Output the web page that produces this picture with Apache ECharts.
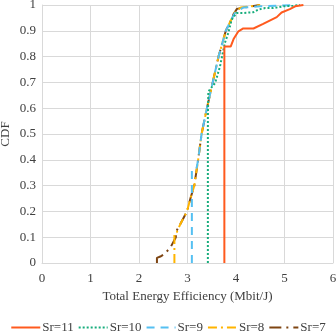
<!DOCTYPE html>
<html>
<head>
<meta charset="utf-8">
<script src="https://cdn.jsdelivr.net/npm/echarts@6/dist/echarts.min.js"></script>
<style>
  html, body { margin: 0; padding: 0; background: #fff; }
  #chart { width: 336px; height: 332px; }
</style>
</head>
<body>
<div id="chart"></div>
<script>
// values: [efficiency, cdf]
var xTicks = [0, 1, 2, 3, 4, 5, 6];
var seriesNames = ['Sr=11', 'Sr=10', 'Sr=9', 'Sr=8', 'Sr=7'];

var sr11 = [[3.76, 0], [3.76, 0.839], [3.89, 0.839], [3.95, 0.868], [4.05, 0.898], [4.15, 0.909],
  [4.36, 0.909], [4.56, 0.927], [4.84, 0.953], [4.94, 0.971], [5.11, 0.984], [5.22, 0.995], [5.39, 1]];

var sr10 = [[3.42, 0], [3.42, 0.562], [3.40, 0.562], [3.43, 0.665], [3.57, 0.698], [3.67, 0.762],
  [3.77, 0.853], [3.84, 0.891], [3.91, 0.943], [4.01, 0.969], [4.15, 0.969], [4.36, 0.972],
  [4.46, 0.982], [4.6, 0.988], [4.77, 0.988], [4.98, 0.995], [5.18, 0.997], [5.32, 1]];

var sr9 = [[3.09, 0], [3.09, 0.36], [3.15, 0.36], [3.19, 0.37], [3.22, 0.4], [3.29, 0.5],
  [3.40, 0.6], [3.52, 0.7], [3.64, 0.8], [3.70, 0.84], [3.79, 0.9], [3.92, 0.95], [3.98, 0.97],
  [4.15, 0.99], [4.5, 0.995], [5.2, 1]];

var sr8 = [[2.73, 0], [2.73, 0.116], [2.78, 0.12], [2.85, 0.15], [2.99, 0.2], [3.06, 0.25],
  [3.14, 0.3], [3.22, 0.4], [3.29, 0.5], [3.40, 0.6], [3.52, 0.7], [3.64, 0.8], [3.70, 0.84],
  [3.79, 0.9], [3.92, 0.95], [3.97, 0.97], [4.1, 0.99], [4.5, 1]];

var sr7 = [[2.37, 0], [2.37, 0.02], [2.44, 0.025], [2.5, 0.032], [2.54, 0.032], [2.64, 0.057],
  [2.76, 0.1], [2.76, 0.12], [2.85, 0.15], [2.99, 0.2], [3.06, 0.25], [3.14, 0.3], [3.22, 0.4],
  [3.29, 0.5], [3.40, 0.6], [3.52, 0.7], [3.64, 0.8], [3.70, 0.84], [3.79, 0.9], [3.92, 0.95],
  [3.95, 0.965], [4.02, 0.985], [4.15, 0.99], [4.49, 1]];

var colors = ['#FF5A1E', '#17AD7C', '#55C0F2', '#FFB400', '#7E4512'];
var dashes = ['solid', [2, 2], [8, 6], [9, 4, 2, 4], [12, 5, 2, 5]];
var allData = [sr11, sr10, sr9, sr8, sr7];

var chart = echarts.init(document.getElementById('chart'));
var font = '"Liberation Serif", "Times New Roman", serif';

var series = [];
for (var i = 0; i < seriesNames.length; i++) {
  series.push({
    name: seriesNames[i],
    type: 'line',
    data: allData[i],
    symbol: 'none',
    z: 10 - i,
    lineStyle: { color: colors[i], width: 2, type: dashes[i] },
    itemStyle: { color: colors[i] }
  });
}
series.reverse();

chart.setOption({
  animation: false,
  textStyle: { fontFamily: font },
  grid: { left: 42, right: 3, top: 5, bottom: 69, outerBoundsMode: 'none', containLabel: false },
  xAxis: {
    type: 'value', min: 0, max: 6, interval: 1,
    name: 'Total Energy Efficiency (Mbit/J)', nameLocation: 'middle', nameGap: 27,
    nameMoveOverlap: false,
    nameTextStyle: { fontFamily: font, fontSize: 13, color: '#404040' },
    axisLine: { show: true, lineStyle: { color: '#D9D9D9', width: 1 } },
    axisTick: { show: false },
    axisLabel: { fontFamily: font, fontSize: 13, color: '#404040', margin: 9 },
    splitLine: { show: true, lineStyle: { color: '#D9D9D9', width: 1 } }
  },
  yAxis: {
    type: 'value', min: 0, max: 1, interval: 0.1,
    name: 'CDF', nameLocation: 'middle', nameGap: 30, nameRotate: 90,
    nameMoveOverlap: false,
    nameTextStyle: { fontFamily: font, fontSize: 13, color: '#404040' },
    axisLine: { show: true, lineStyle: { color: '#D9D9D9', width: 1 } },
    axisTick: { show: false },
    axisLabel: {
      fontFamily: font, fontSize: 13, color: '#404040', margin: 6,
      formatter: function (v) { return String(Math.round(v * 10) / 10); }
    },
    splitLine: { show: true, lineStyle: { color: '#D9D9D9', width: 1 } }
  },
  legend: {
    data: seriesNames,
    bottom: -2, left: 'center', padding: [0, 5, 0, 5],
    itemWidth: 29, itemHeight: 8, itemGap: 4,
    itemStyle: { opacity: 0 },
    textStyle: { fontFamily: font, fontSize: 13, color: '#404040', padding: [0, 0, 0, -3] }
  },
  series: series
});
</script>
</body>
</html>
